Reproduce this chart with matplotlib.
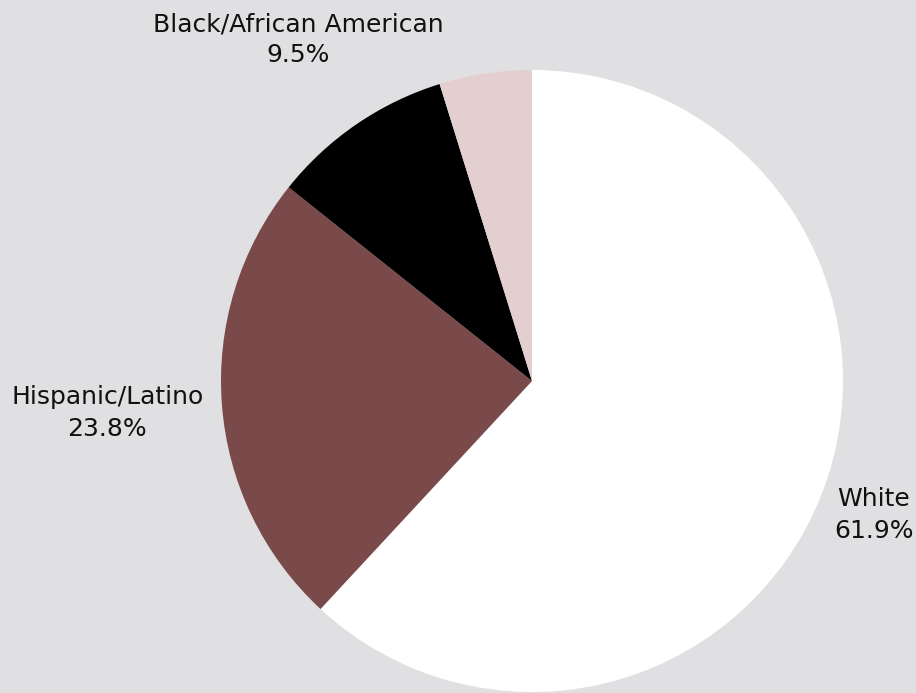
import matplotlib
matplotlib.use("Agg")
import matplotlib.pyplot as plt
import numpy as np

categories = ["White", "Hispanic/Latino", "Black/African American", "Other"]
values = [61.9, 23.8, 9.5, 4.8]
show_label = [True, True, True, False]
colors = ["#ffffff", "#7a4a4b", "#000000", "#e3cfcf"]
label_dist = [1.18, 1.37, 1.33, 1.2]

W, H, DPI = 916, 693, 100
cx, cy, R = 532, 381, 311

fig = plt.figure(figsize=(W / DPI, H / DPI), dpi=DPI, facecolor="#e0dfe1")
ax = fig.add_axes([0, 0, 1, 1])
ax.set_facecolor("#e0dfe1")

wedges, _ = ax.pie(values, colors=colors, startangle=90, counterclock=False,
                   radius=1.0, wedgeprops=dict(linewidth=0))

total = sum(values)
for w, cat, v, show, d in zip(wedges, categories, values, show_label, label_dist):
    if not show:
        continue
    mid = np.deg2rad((w.theta1 + w.theta2) / 2)
    x, y = d * np.cos(mid), d * np.sin(mid)
    ax.text(x, y, f"{cat}\n{v / total * 100:.1f}%", ha="center", va="center",
            fontsize=18, family=["DejaVu Sans"], color="#111111",
            linespacing=1.38)

ax.set_xlim(-cx / R, (W - cx) / R)
ax.set_ylim(-(H - cy) / R, cy / R)
ax.set_aspect("auto")
ax.axis("off")

fig.savefig("out.png", dpi=DPI, facecolor=fig.get_facecolor())
